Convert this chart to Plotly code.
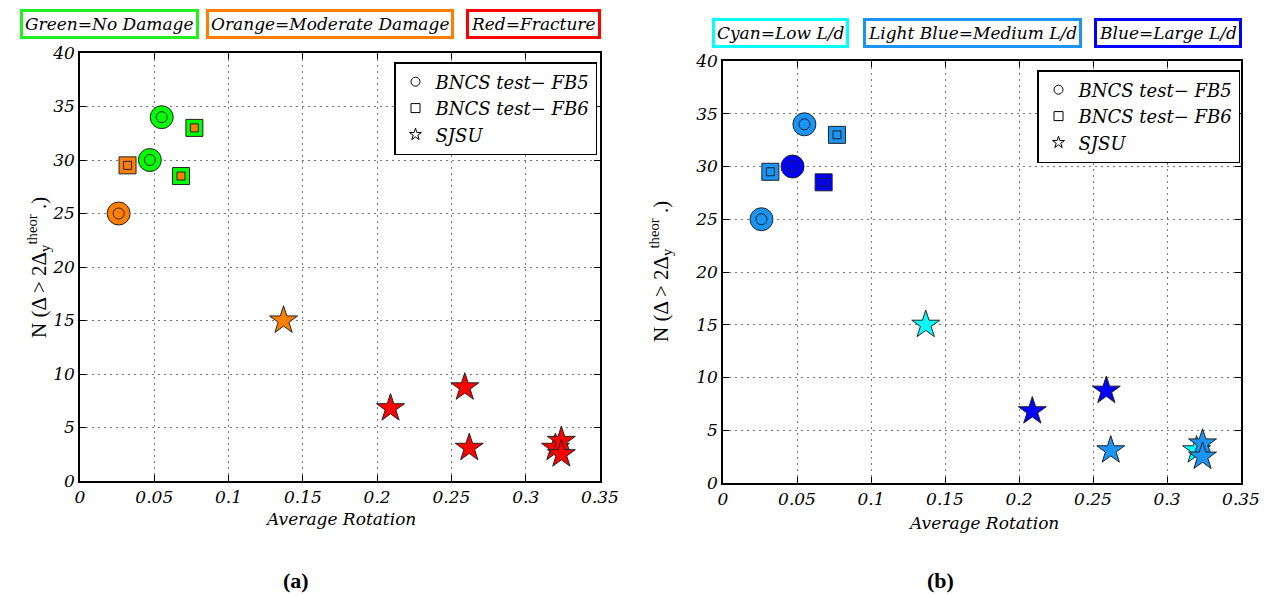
import plotly.graph_objects as go

# ---------------- data ----------------
fb5_rot = [0.055, 0.047, 0.026]
fb5_n = [34, 30, 25]
fb6_rot = [0.032, 0.077, 0.068]
fb6_n = [29.5, 33, 28.5]
sjsu_rot = [0.137, 0.209, 0.259, 0.262, 0.320, 0.324, 0.324]
sjsu_n = [15, 6.8, 8.75, 3.1, 3.1, 3.75, 2.5]

# damage classes (panel a)
fb5_damage = ["No", "No", "Moderate"]
fb6_damage = ["Moderate", "No", "No"]
fb6_damage_inner = ["Moderate", "Moderate", "Moderate"]
sjsu_damage = ["Moderate", "Fracture", "Fracture", "Fracture", "Fracture", "Fracture", "Fracture"]
# L/d classes (panel b)
fb5_ld = ["Medium", "Large", "Medium"]
fb6_ld = ["Medium", "Medium", "Large"]
sjsu_ld = ["Low", "Large", "Large", "Medium", "Low", "Medium", "Medium"]

damage_colors = {"No": "#00ff00", "Moderate": "#ff8000", "Fracture": "#ff0000"}
ld_colors = {"Low": "#00ffff", "Medium": "#1a95f5", "Large": "#0000ff"}

x_ticks = [0, 0.05, 0.1, 0.15, 0.2, 0.25, 0.3, 0.35]
x_ticklabels = ["0", "0.05", "0.1", "0.15", "0.2", "0.25", "0.3", "0.35"]
y_ticks = [0, 5, 10, 15, 20, 25, 30, 35, 40]

# page is shown with an 8px body margin: design in page pixels, shift by OFF
OFF = 8
W, H = 1262, 588
ITAL = "DejaVu Serif"
UPR = "Liberation Serif"


def px(x):
    return (x - OFF) / W


def py(y):
    return 1 - (y - OFF) / H


fig = go.Figure()


def add_panel(xa, ya, legend, c5, c6, c6i, cs):
    line = dict(color="#222222", width=1)
    fig.add_trace(go.Scatter(x=fb5_rot, y=fb5_n, mode="markers", xaxis=xa, yaxis=ya,
                             marker=dict(symbol="circle", size=23, color=c5, line=line),
                             showlegend=False, hoverinfo="skip"))
    fig.add_trace(go.Scatter(x=fb5_rot, y=fb5_n, mode="markers", xaxis=xa, yaxis=ya,
                             marker=dict(symbol="circle", size=11, color=c5, line=line),
                             showlegend=False, hoverinfo="skip"))
    fig.add_trace(go.Scatter(x=fb6_rot, y=fb6_n, mode="markers", xaxis=xa, yaxis=ya,
                             marker=dict(symbol="square", size=17, color=c6, line=line),
                             showlegend=False, hoverinfo="skip"))
    fig.add_trace(go.Scatter(x=fb6_rot, y=fb6_n, mode="markers", xaxis=xa, yaxis=ya,
                             marker=dict(symbol="square", size=8, color=c6i, line=line),
                             showlegend=False, hoverinfo="skip"))
    fig.add_trace(go.Scatter(x=sjsu_rot, y=sjsu_n, mode="markers", xaxis=xa, yaxis=ya,
                             marker=dict(symbol="star", size=21, color=cs, line=line),
                             showlegend=False, hoverinfo="skip"))
    for name, sym in [("BNCS test\u2212 FB5", "circle-open"),
                      ("BNCS test\u2212 FB6", "square-open"),
                      ("SJSU", "star-open")]:
        fig.add_trace(go.Scatter(x=[None], y=[None], mode="markers", xaxis=xa, yaxis=ya,
                                 name=name, legend=legend,
                                 marker=dict(symbol=sym, size=9, color="black",
                                             line=dict(color="black", width=1))))


add_panel("x", "y", "legend",
          [damage_colors[d] for d in fb5_damage],
          [damage_colors[d] for d in fb6_damage],
          [damage_colors[d] for d in fb6_damage_inner],
          [damage_colors[d] for d in sjsu_damage])
add_panel("x2", "y2", "legend2",
          [ld_colors[d] for d in fb5_ld],
          [ld_colors[d] for d in fb6_ld],
          [ld_colors[d] for d in fb6_ld],
          [ld_colors[d] for d in sjsu_ld])

tickfont = dict(family=ITAL, size=17, style="italic", color="black")


def xaxis(domain, anchor):
    return dict(domain=domain, anchor=anchor, range=[0, 0.35], tickvals=x_ticks,
                ticktext=x_ticklabels, ticks="inside", ticklen=6, tickcolor="black",
                showline=True, linecolor="black", linewidth=1.5, mirror="ticks",
                showgrid=True, gridcolor="#777777", griddash="1.5px,4.5px", gridwidth=1,
                zeroline=False, tickfont=tickfont)


def yaxis(domain, anchor):
    return dict(domain=domain, anchor=anchor, range=[0, 40], tickvals=y_ticks,
                ticks="inside", ticklen=6, tickcolor="black",
                showline=True, linecolor="black", linewidth=1.5, mirror="ticks",
                showgrid=True, gridcolor="#777777", griddash="1.5px,4.5px", gridwidth=1,
                zeroline=False, tickfont=tickfont)


legfont = dict(family=ITAL, size=18, style="italic", color="black")
fig.update_layout(
    width=W, height=H, margin=dict(l=0, r=0, t=0, b=0, autoexpand=False),
    plot_bgcolor="white", paper_bgcolor="white",
    xaxis=xaxis([px(80), px(600)], "y"),
    yaxis=yaxis([py(481), py(53)], "x"),
    xaxis2=xaxis([px(723), px(1241)], "y2"),
    yaxis2=yaxis([py(483), py(61)], "x2"),
    legend=dict(x=px(597), y=py(62), xanchor="right", yanchor="top",
                bgcolor="white", bordercolor="black", borderwidth=1.5,
                font=legfont, tracegroupgap=0),
    legend2=dict(x=px(1240), y=py(70), xanchor="right", yanchor="top",
                 bgcolor="white", bordercolor="black", borderwidth=1.5,
                 font=legfont, tracegroupgap=0),
    showlegend=True,
)

for text, color, xc, yc in [("Green=No Damage", "#22ee22", 109, 24),
                            ("Orange=Moderate Damage", "#ff8000", 330, 24),
                            ("Red=Fracture", "#ff0000", 533, 24),
                            ("Cyan=Low L/d", "#00ffff", 780, 33),
                            ("Light Blue=Medium L/d", "#1a95f5", 972, 33),
                            ("Blue=Large L/d", "#0000ff", 1168, 33)]:
    fig.add_annotation(text=text, xref="paper", yref="paper", x=px(xc), y=py(yc),
                       xanchor="center", yanchor="middle", showarrow=False,
                       font=dict(family=ITAL, size=17, style="italic", color="black"),
                       bordercolor=color, borderwidth=3, borderpad=2,
                       bgcolor="white")

ytitle = "N (\u0394 > 2\u0394<sub>y</sub><sup>theor</sup> .)"
for xc, yc in [(38, 268), (660, 272)]:
    fig.add_annotation(text=ytitle, xref="paper", yref="paper", x=px(xc), y=py(yc),
                       textangle=-90, showarrow=False, xanchor="center", yanchor="middle",
                       font=dict(family=UPR, size=21, color="black"))

for xc, yc in [(340, 519), (983, 523)]:
    fig.add_annotation(text="Average Rotation", xref="paper", yref="paper", x=px(xc), y=py(yc),
                       showarrow=False, xanchor="center", yanchor="middle",
                       font=dict(family=ITAL, size=17, style="italic", color="black"))

for text, xc in [("(a)", 296), ("(b)", 940)]:
    fig.add_annotation(text="<b>" + text + "</b>", xref="paper", yref="paper", x=px(xc), y=py(580),
                       showarrow=False, xanchor="center", yanchor="middle",
                       font=dict(family=UPR, size=22, color="black"))

fig.write_html("out.html")
